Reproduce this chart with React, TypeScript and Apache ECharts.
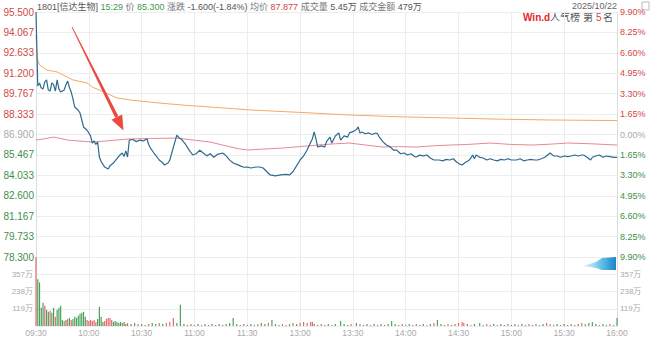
import React, { useEffect, useRef } from "react";
import * as echarts from "echarts";

const prevClose = 86.9;
const priceStep = 8.6 / 6; // price per horizontal grid step
const timeLabels = ["09:30", "10:00", "10:30", "11:00", "11:30", "13:00", "13:30", "14:00", "14:30", "15:00", "15:30", "16:00"];

// [minute index from 09:30, price]
const price: [number, number][] = [
  [0, 95.5], [0.3, 93.9], [1, 90.3], [2, 90.52], [3, 90.16], [4, 90.1], [5, 90.6], [6, 90.73], [7, 90.02], [8, 89.95], [9, 90.52],
  [10, 90.4], [11, 89.95], [12, 90.73], [13, 90.1], [14, 89.88], [15, 89.95], [16, 90.02], [17, 90.4], [18, 90.65], [19, 90.2],
  [20, 89.88], [21, 89.4], [22, 88.83], [24, 88.6], [25, 88.41], [27, 87.43], [29, 87.2], [30, 87.01], [31, 86.8], [32, 86.3],
  [33, 86.45], [34, 86.2], [35, 86.37], [36, 85.32], [37, 85.0], [39, 84.62], [41, 84.48], [42, 84.7], [44, 84.9], [46, 85.2],
  [48, 85.5], [49, 85.6], [50, 85.35], [51, 85.75], [52, 85.32], [53, 86.51], [55, 86.55], [57, 86.4], [59, 86.51], [61, 86.45],
  [63, 86.6], [64, 86.2], [65, 85.95], [67, 85.6], [70, 85.11], [72, 84.9], [73, 84.76], [75, 84.9], [76, 85.11], [78, 86.0],
  [80, 86.86], [81, 86.7], [83, 86.51], [85, 86.2], [87, 85.8], [89, 85.46], [91, 85.55], [93, 85.8], [95, 85.6], [97, 85.4],
  [99, 85.55], [101, 85.3], [103, 85.5], [106, 85.6], [108, 85.4], [110, 85.1], [112, 84.9], [114, 84.8], [116, 84.7], [118, 84.6],
  [120, 84.62], [122, 84.55], [125, 84.62], [127, 84.62], [129, 84.55], [131, 84.3], [133, 84.06], [136, 84.0], [139, 84.06],
  [142, 84.1], [144, 84.06], [146, 84.3], [148, 84.7], [150, 85.11], [152, 85.4], [154, 85.81], [155, 86.1], [157, 86.6],
  [158, 87.08], [159, 86.6], [160, 86.02], [162, 86.1], [164, 86.02], [165, 86.4], [167, 86.72], [168, 86.3], [170, 86.8],
  [172, 87.01], [173, 86.51], [175, 86.8], [177, 86.72], [178, 87.01], [180, 87.1], [182, 87.25], [183, 87.43], [184, 87.0],
  [185, 87.08], [187, 86.95], [189, 87.01], [191, 86.9], [193, 87.01], [194, 86.95], [195, 86.72], [197, 86.4], [199, 86.16],
  [201, 86.05], [203, 85.81], [205, 85.8], [207, 85.55], [209, 85.6], [211, 85.46], [213, 85.55], [215, 85.35], [216, 85.32],
  [218, 85.45], [220, 85.4], [222, 85.46], [224, 85.25], [226, 85.11], [229, 85.11], [231, 85.05], [233, 85.15], [235, 85.11],
  [237, 85.2], [239, 84.95], [241, 84.8], [242, 84.76], [244, 84.95], [246, 85.1], [247, 85.25], [248, 85.46], [249, 85.2],
  [250, 85.46], [252, 85.3], [254, 85.25], [256, 85.11], [258, 85.2], [260, 85.11], [262, 85.05], [264, 85.15], [266, 85.11],
  [268, 85.2], [270, 85.11], [273, 85.11], [275, 85.2], [277, 85.05], [279, 85.11], [281, 85.15], [283, 85.11], [285, 85.11],
  [287, 85.2], [289, 85.3], [291, 85.5], [292, 85.6], [294, 85.4], [296, 85.39], [298, 85.3], [300, 85.39], [302, 85.35],
  [304, 85.39], [306, 85.46], [308, 85.39], [310, 85.46], [311, 85.46], [313, 85.3], [315, 85.11], [316, 85.3], [318, 85.39],
  [320, 85.46], [322, 85.3], [324, 85.39], [326, 85.35], [328, 85.3], [330, 85.3],
];

// average price line
const avgPrice: [number, number][] = [
  [0, 93.9], [0.6, 92.27], [2, 91.78], [6, 91.43], [12, 91.29], [21, 90.73], [29, 90.52], [32, 90.23], [36, 90.02],
  [46, 89.46], [55, 89.3], [70, 89.11], [85, 88.95], [99, 88.83], [122, 88.62], [150, 88.45], [178, 88.27], [205, 88.15],
  [235, 88.06], [262, 87.98], [292, 87.92], [330, 87.877],
];

// reference (index) line
const indexLine: [number, number][] = [
  [0, 86.51], [5, 86.6], [10, 86.72], [14, 86.62], [18, 86.51], [24, 86.45], [32, 86.37], [40, 86.45], [52, 86.58],
  [65, 86.62], [80, 86.65], [90, 86.5], [99, 86.37], [108, 86.1], [115, 85.9], [120, 85.81], [130, 85.88], [140, 85.95],
  [150, 86.05], [160, 86.16], [170, 86.25], [178, 86.3], [188, 86.15], [197, 86.02], [206, 86.05], [216, 86.02],
  [225, 86.1], [235, 86.16], [245, 86.2], [258, 86.3], [270, 86.2], [282, 86.16], [292, 86.22], [302, 86.3], [315, 86.25],
  [330, 86.16],
];

// [minute, volume (万), direction 1 = up / -1 = down]
const volume: [number, number, number][] = [
  [0, 476, 1], [1, 322, -1], [2, 301, -1], [3, 126, -1], [4, 161, -1], [5, 140, 1], [6, 112, -1], [7, 98, -1], [8, 105, 1],
  [9, 91, -1], [10, 126, -1], [11, 63, 1], [12, 112, -1], [13, 126, -1], [14, 140, -1], [15, 42, -1], [16, 35, 1], [17, 42, -1],
  [18, 49, 1], [19, 56, -1], [20, 42, 1], [21, 49, -1], [22, 63, -1], [23, 56, -1], [24, 70, -1], [25, 84, -1], [26, 91, -1],
  [27, 98, -1], [28, 63, -1], [29, 42, 1], [30, 35, 1], [31, 42, 1], [32, 35, 1], [33, 42, 1], [34, 28, 1], [35, 49, -1],
  [36, 133, -1], [37, 63, -1], [38, 28, -1], [39, 35, 1], [40, 49, 1], [41, 56, 1], [42, 56, 1], [43, 42, 1], [44, 28, -1],
  [45, 35, -1], [46, 28, -1], [47, 21, -1], [48, 28, -1], [49, 21, 1], [50, 28, -1], [51, 14, -1], [52, 21, 1], [54, 14, -1],
  [56, 21, -1], [58, 14, 1], [60, 14, -1], [62, 7, -1], [64, 14, 1], [66, 21, -1], [68, 14, -1], [70, 21, 1], [72, 14, -1],
  [74, 21, 1], [76, 28, 1], [78, 56, 1], [80, 21, -1], [82, 147, -1], [84, 14, -1], [86, 7, -1], [88, 14, 1], [90, 7, -1],
  [92, 14, -1], [94, 7, 1], [96, 14, -1], [98, 7, -1], [100, 14, -1], [102, 7, 1], [104, 14, -1], [106, 7, -1], [108, 14, -1],
  [110, 21, -1], [112, 56, -1], [114, 14, -1], [116, 7, -1], [118, 14, 1], [120, 7, -1], [122, 14, -1], [124, 7, -1],
  [126, 14, 1], [128, 21, -1], [130, 14, -1], [132, 21, 1], [134, 42, -1], [136, 14, -1], [138, 7, -1], [140, 14, 1],
  [142, 7, -1], [144, 14, -1], [146, 21, 1], [148, 14, -1], [150, 21, 1], [152, 28, 1], [154, 21, 1], [156, 28, 1],
  [157, 28, 1], [158, 14, -1], [160, 7, -1], [162, 14, 1], [164, 7, -1], [166, 14, -1], [168, 7, 1], [170, 14, -1],
  [173, 35, -1], [175, 14, -1], [177, 7, -1], [179, 14, 1], [182, 21, -1], [184, 14, 1], [186, 7, -1], [188, 14, -1],
  [190, 7, 1], [192, 14, -1], [194, 7, -1], [196, 14, -1], [198, 7, 1], [200, 14, -1], [202, 35, -1], [204, 14, -1],
  [206, 7, -1], [208, 14, 1], [210, 7, -1], [212, 14, -1], [214, 7, -1], [216, 14, 1], [218, 7, -1], [220, 14, -1],
  [222, 7, 1], [224, 14, -1], [226, 21, 1], [228, 42, -1], [230, 14, -1], [232, 7, -1], [234, 14, 1], [236, 7, -1],
  [238, 14, 1], [240, 21, 1], [242, 28, 1], [243, 21, 1], [245, 14, -1], [247, 7, 1], [249, 14, -1], [252, 21, -1],
  [254, 7, -1], [256, 14, 1], [258, 7, -1], [260, 14, -1], [262, 7, 1], [264, 14, -1], [266, 7, -1], [268, 14, 1],
  [270, 7, -1], [272, 14, -1], [274, 7, 1], [276, 14, -1], [278, 7, -1], [280, 14, 1], [282, 7, -1], [284, 14, -1],
  [286, 7, 1], [288, 14, -1], [290, 21, 1], [292, 14, 1], [294, 7, -1], [296, 14, -1], [298, 7, 1], [300, 14, -1],
  [302, 7, -1], [304, 14, 1], [306, 7, -1], [308, 14, -1], [310, 21, 1], [312, 14, -1], [314, 21, -1], [316, 28, -1],
  [318, 14, -1], [320, 7, 1], [322, 14, -1], [324, 7, -1], [326, 14, 1], [328, 7, -1], [330, 56, -1],
];

const volMax = 476;
const volStep = 119;

const FONT = "Liberation Sans, Noto Sans CJK SC, sans-serif";
const RED = "#d04848";
const GREEN = "#3f8f4a";
const GREY_LABEL = "#aaaaaa";
const GRID = "#ededed";

const toU = (p: number) => (p - prevClose) / priceStep;

function txt(x: number, y: number, text: string, fill: string, size = 9, weight: string = "normal", align = "left") {
  return {
    type: "text",
    x,
    y,
    silent: true,
    style: {
      text,
      fill,
      fontSize: size,
      fontWeight: weight,
      fontFamily: FONT,
      align,
      verticalAlign: "middle",
      textAlign: align,
      textVerticalAlign: "middle",
    },
  };
}

export default function App() {
  const ref = useRef<HTMLDivElement>(null);
  useEffect(() => {
    if (!ref.current) return;
    const chart = echarts.init(ref.current, undefined, { renderer: "svg" });

    const labelColor = (v: any) => {
      const n = Number(v);
      if (Math.abs(n) < 1e-6) return GREY_LABEL;
      return n > 0 ? RED : GREEN;
    };

    // arrow geometry (annotation)
    const ax0 = 72, ay0 = 27, ax1 = 123.5, ay1 = 130.5;
    const len = Math.hypot(ax1 - ax0, ay1 - ay0);
    const ux = (ax1 - ax0) / len, uy = (ay1 - ay0) / len;
    const px = -uy, py = ux;
    const bx = ax1 - ux * 15, by = ay1 - uy * 15;

    const headerRich = {
      d: { fill: "#555555", fontSize: 9, fontFamily: FONT },
      k: { fill: "#777777", fontSize: 9, fontFamily: FONT },
      g: { fill: "#3f9a4a", fontSize: 9, fontFamily: FONT },
      r: { fill: RED, fontSize: 9, fontFamily: FONT },
    };
    const headerText =
      "{d|1801[信达生物]} {g|15:29} {k|价} {g|85.300} {k|涨跌} {d|-1.600(-1.84%)} {k|均价} {r|87.877} {k|成交量} {d|5.45万} {k|成交金额} {d|479万}";

    const option: any = {
      animation: false,
      backgroundColor: "#ffffff",
      textStyle: { fontFamily: FONT },
      grid: [
        { left: 36, right: 33, top: 12, height: 245 },
        { left: 36, right: 33, top: 257, height: 69 },
      ],
      xAxis: [
        {
          type: "value", gridIndex: 0, min: 0, max: 330, interval: 30,
          axisLabel: { show: false }, axisTick: { show: false }, axisLine: { show: false },
          splitLine: { show: true, lineStyle: { color: GRID, width: 1 } },
        },
        {
          type: "value", gridIndex: 1, min: 0, max: 330, interval: 30,
          axisLabel: {
            formatter: (v: number) => timeLabels[Math.round(v / 30)] ?? "",
            color: GREY_LABEL, fontSize: 8.5, margin: 3, fontFamily: FONT,
          },
          axisTick: { show: false }, axisLine: { show: false },
          splitLine: { show: true, lineStyle: { color: GRID, width: 1 } },
        },
      ],
      yAxis: [
        {
          type: "value", gridIndex: 0, position: "left", min: -6, max: 6, interval: 1,
          axisLabel: {
            formatter: (v: number) => (prevClose + v * priceStep).toFixed(3),
            color: labelColor, fontSize: 10, margin: 2, fontFamily: FONT,
          },
          axisTick: { show: false },
          axisLine: { show: true, lineStyle: { color: "#dddddd" } },
          splitLine: { show: true, lineStyle: { color: GRID, width: 1 } },
        },
        {
          type: "value", gridIndex: 0, position: "right", min: -6, max: 6, interval: 1,
          axisLabel: {
            formatter: (v: number) => (Math.abs(v) * 1.65).toFixed(2) + "%",
            color: labelColor, fontSize: 9, margin: 3, fontFamily: FONT,
          },
          axisTick: { show: false },
          axisLine: { show: true, lineStyle: { color: "#dddddd" } },
          splitLine: { show: false },
        },
        {
          type: "value", gridIndex: 1, position: "left", min: 0, max: volMax, interval: volStep,
          axisLabel: {
            showMinLabel: false, showMaxLabel: false,
            formatter: (v: number) => (v === 0 || v >= volMax ? "" : v + "万"),
            color: GREY_LABEL, fontSize: 8, margin: 3, fontFamily: FONT,
          },
          axisTick: { show: false },
          axisLine: { show: true, lineStyle: { color: "#dddddd" } },
          splitLine: { show: true, lineStyle: { color: GRID, width: 1 } },
        },
        {
          type: "value", gridIndex: 1, position: "right", min: 0, max: volMax, interval: volStep,
          axisLabel: {
            showMinLabel: false, showMaxLabel: false,
            formatter: (v: number) => (v === 0 || v >= volMax ? "" : v + "万"),
            color: GREY_LABEL, fontSize: 8, margin: 3, fontFamily: FONT,
          },
          axisTick: { show: false },
          axisLine: { show: true, lineStyle: { color: "#dddddd" } },
          splitLine: { show: false },
        },
      ],
      series: [
        {
          type: "line", xAxisIndex: 0, yAxisIndex: 0, symbol: "none", silent: true,
          data: indexLine.map(([m, p]) => [m, toU(p)]),
          lineStyle: { color: "#e48a94", width: 1 },
          z: 2,
        },
        {
          type: "line", xAxisIndex: 0, yAxisIndex: 0, symbol: "none", silent: true,
          data: avgPrice.map(([m, p]) => [m, toU(p)]),
          lineStyle: { color: "#f2a968", width: 1 },
          z: 3,
        },
        {
          type: "line", xAxisIndex: 0, yAxisIndex: 0, symbol: "none", silent: true,
          data: price.map(([m, p]) => [m, toU(p)]),
          lineStyle: { color: "#2e6a8e", width: 1.2 },
          z: 4,
        },
        {
          type: "bar", xAxisIndex: 1, yAxisIndex: 2, silent: true, barWidth: 1.2, clip: true,
          data: volume.map(([m, v, d]) => ({
            value: [m, v],
            itemStyle: { color: d > 0 ? "#e26a6a" : "#4fa05e" },
          })),
        },
      ],
      graphic: [
        {
          type: "text", x: 37, y: 7, silent: true,
          style: {
            text: headerText, rich: headerRich, fill: "#555555", fontSize: 9, fontFamily: FONT,
            align: "left", verticalAlign: "middle", textAlign: "left", textVerticalAlign: "middle",
          },
        },
        txt(617, 6, "2025/10/22", "#666666", 9, "normal", "right"),
        txt(523, 17, "Win.d", "#e3262b", 10, "bold"),
        txt(550, 17, "人气榜", "#555555", 10),
        txt(583, 17, "第", "#555555", 10),
        txt(596, 17, "5", RED, 10),
        txt(603, 17, "名", "#555555", 10),
        {
          type: "rect", silent: true,
          shape: { x: 642, y: 2, width: 7, height: 8 },
          style: { fill: "none", stroke: "#bbbbbb", lineWidth: 1 },
        },
        {
          type: "polygon", silent: true, z: 100,
          shape: {
            points: [
              [ax0 - px * 0.4, ay0 - py * 0.4],
              [ax0 + px * 0.4, ay0 + py * 0.4],
              [bx + px * 1.8, by + py * 1.8],
              [bx - px * 1.8, by - py * 1.8],
            ],
          },
          style: { fill: "#ea4a3f" },
        },
        {
          type: "polygon", silent: true, z: 100,
          shape: {
            points: [
              [ax1, ay1],
              [bx + px * 6, by + py * 6],
              [bx - px * 6, by - py * 6],
            ],
          },
          style: { fill: "#ea4a3f" },
        },
        {
          type: "polygon", silent: true, z: 100,
          shape: {
            points: [[583, 266], [596, 262], [602, 258], [616, 257], [616, 270], [602, 270], [596, 268]],
          },
          style: {
            fill: new echarts.graphic.LinearGradient(0, 0, 1, 0, [
              { offset: 0, color: "rgba(190,235,250,0.6)" },
              { offset: 0.5, color: "#6cc7ec" },
              { offset: 1, color: "#1b85c6" },
            ]),
          },
        },
      ],
    };

    chart.setOption(option);
    return () => chart.dispose();
  }, []);

  return (
    <div
      ref={ref}
      style={{ position: "fixed", left: 0, top: 0, width: 650, height: 338, background: "#fff" }}
    />
  );
}
